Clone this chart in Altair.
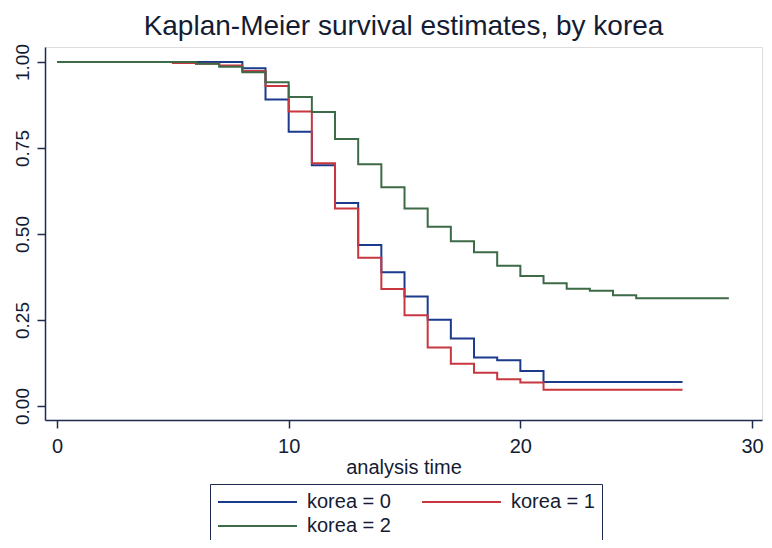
import altair as alt
import pandas as pd

# ---- data ----
labels = ["korea = 0", "korea = 1", "korea = 2"]
colors = ["#1b3a8c", "#c8373f", "#3d6b47"]

time0 = [0, 8, 9, 10, 11, 12, 13, 14, 15, 16, 17, 18, 19, 20, 21, 27]
surv0 = [1.0, 0.982, 0.891, 0.797, 0.700, 0.590, 0.468, 0.389, 0.318, 0.251, 0.196, 0.141, 0.133, 0.102, 0.070, 0.070]

time1 = [0, 5, 6, 7, 8, 9, 10, 11, 12, 13, 14, 15, 16, 17, 18, 19, 20, 21, 27]
surv1 = [1.0, 0.997, 0.995, 0.990, 0.974, 0.930, 0.856, 0.706, 0.574, 0.431, 0.340, 0.264, 0.170, 0.123, 0.097, 0.078, 0.068, 0.047, 0.047]

time2 = [0, 6, 7, 8, 9, 10, 11, 12, 13, 14, 15, 16, 17, 18, 19, 20, 21, 22, 23, 24, 25, 29]
surv2 = [1.0, 0.995, 0.986, 0.970, 0.941, 0.898, 0.855, 0.776, 0.703, 0.636, 0.574, 0.521, 0.479, 0.447, 0.408, 0.378, 0.357, 0.341, 0.335, 0.322, 0.313, 0.313]

x_ticks = [0, 10, 20, 30]
y_ticks = [0, 0.25, 0.5, 0.75, 1.0]

rows = []
for lab, ts, ss in zip(labels, [time0, time1, time2], [surv0, surv1, surv2]):
    for t, s in zip(ts, ss):
        rows.append({"time": t, "survival": s, "group": lab})
df = pd.DataFrame(rows)

axis_color = "#1e2a4f"
text_color = "#141c33"
sans = "Liberation Sans, Arial"

chart = alt.Chart(df).mark_line(interpolate="step-after", strokeWidth=2).encode(
    x=alt.X(
        "time:Q",
        scale=alt.Scale(domain=[-0.518, 30.43], nice=False, zero=False),
        axis=alt.Axis(
            values=x_ticks, format="d", title="analysis time", grid=False,
            tickSize=8, labelPadding=8, labelFont=sans, labelFontSize=20,
            labelColor=text_color, labelFlush=False,
            titleFont=sans, titleFontSize=20, titleFontWeight="normal",
            titleColor=text_color, titlePadding=1,
            domainColor=axis_color, tickColor=axis_color,
            domainWidth=1.5, tickWidth=1.5,
        ),
    ),
    y=alt.Y(
        "survival:Q",
        scale=alt.Scale(domain=[-0.0407, 1.0436], nice=False, zero=False),
        axis=alt.Axis(
            values=y_ticks, format=".2f", title=None, grid=False,
            tickSize=8, labelPadding=9, labelAngle=270, labelAlign="center",
            labelBaseline="alphabetic", labelFont=sans, labelFontSize=19,
            labelColor=text_color, labelFlush=False,
            domainColor=axis_color, tickColor=axis_color,
            domainWidth=1.5, tickWidth=1.5,
        ),
    ),
    color=alt.Color(
        "group:N",
        scale=alt.Scale(domain=labels, range=colors),
        legend=alt.Legend(
            title=None, orient="none", legendX=165, legendY=437,
            direction="horizontal", columns=2, symbolType="stroke",
            symbolSize=6241, symbolStrokeWidth=2, clipHeight=22,
            rowPadding=2, columnPadding=30, labelOffset=9, labelFont=sans,
            labelFontSize=20, labelColor=text_color, labelLimit=0,
            strokeColor=axis_color, fillColor="white", padding=7,
        ),
    ),
).properties(
    width=717,
    height=373,
    autosize="none",
    padding={"left": 37, "top": 39, "right": 2, "bottom": 120},
    title=alt.TitleParams(
        "Kaplan-Meier survival estimates, by korea",
        font=sans, fontSize=28, fontWeight="normal", color=text_color,
        anchor="middle", offset=3,
    ),
).configure_view(stroke=None).configure(background="white")

chart.save("out.html", embed_options={"renderer": "svg", "actions": False})
